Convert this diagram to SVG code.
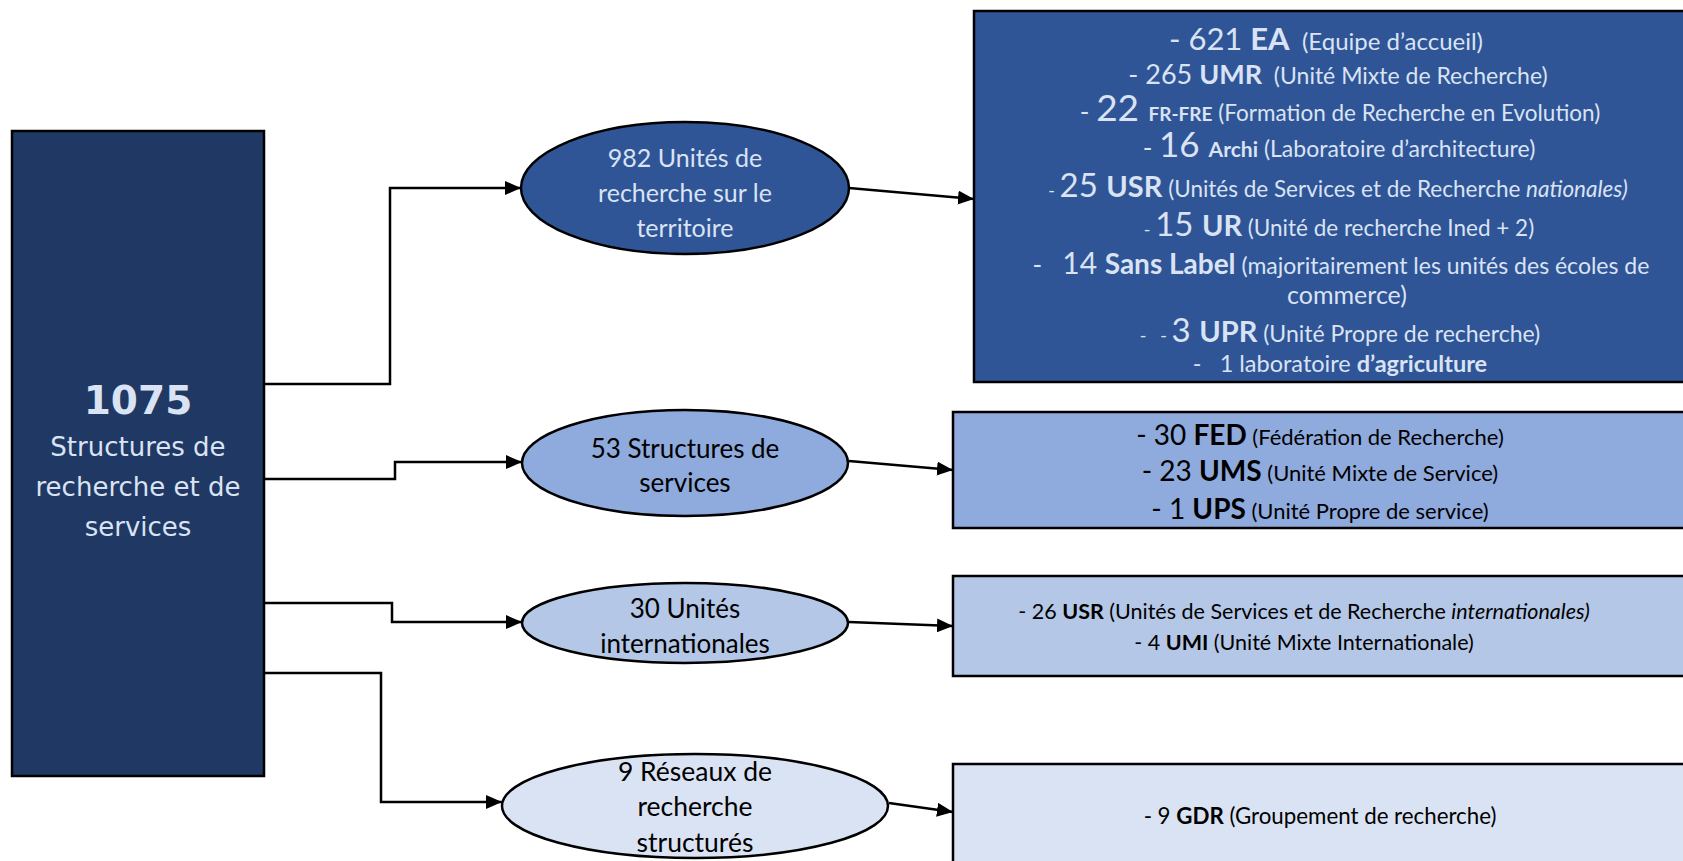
<svg xmlns="http://www.w3.org/2000/svg" width="1683" height="861" viewBox="0 0 1683 861">
  <defs>
    <marker id="arrow" markerUnits="userSpaceOnUse" markerWidth="16" markerHeight="14" refX="16" refY="7" orient="auto">
      <path d="M0,0 L16,7 L0,14 Z" fill="#000"/>
    </marker>
    <style>
      .frame { stroke: #000; stroke-width: 2.5; }
      .dark { fill: #203864; }
      .l1 { fill: #2f5597; }
      .l2 { fill: #8faadc; }
      .l3 { fill: #b4c7e7; }
      .l4 { fill: #dae3f3; }
      .conn { fill: none; stroke: #000; stroke-width: 2.5; marker-end: url(#arrow); }
      text { font-family: Lato, "Liberation Sans", sans-serif; text-anchor: middle; }
      .light { fill: #dae3f3; }
      .ink { fill: #000; }
      .b { font-weight: bold; }
      .i { font-style: italic; }
      .root { font-family: "DejaVu Sans", Verdana, sans-serif; }
    </style>
  </defs>

  <!-- Root box -->
  <g id="root">
    <rect class="frame dark" x="12" y="131" width="252" height="645"/>
    <text class="root light b" x="138" y="414" font-size="39">1075</text>
    <text class="root light" x="138" y="456" font-size="26">Structures de</text>
    <text class="root light" x="138" y="496" font-size="26">recherche et de</text>
    <text class="root light" x="138" y="536" font-size="26">services</text>
  </g>

  <!-- Connectors -->
  <g id="connectors">
    <path class="conn" d="M264 384 H390 V188 H521"/>
    <path class="conn" d="M264 479 H395 V462 H522"/>
    <path class="conn" d="M264 603 H392 V622 H522"/>
    <path class="conn" d="M264 673 H381 V802 H502"/>
    <path class="conn" d="M849 188 L974 199"/>
    <path class="conn" d="M849 461 L953 470"/>
    <path class="conn" d="M849 622 L953 626"/>
    <path class="conn" d="M889 803 L953 812"/>
  </g>

  <!-- Category ellipses -->
  <g id="units-territory">
    <ellipse class="frame l1" cx="685" cy="188" rx="164" ry="66"/>
    <text class="light" font-size="25" x="685" y="167">982 Unités de</text>
    <text class="light" font-size="25" x="685" y="202">recherche sur le</text>
    <text class="light" font-size="25" x="685" y="237">territoire</text>
  </g>
  <g id="service-structures">
    <ellipse class="frame l2" cx="685" cy="463" rx="163" ry="53"/>
    <text class="ink" font-size="26" x="685" y="458">53 Structures de</text>
    <text class="ink" font-size="26" x="685" y="492">services</text>
  </g>
  <g id="international-units">
    <ellipse class="frame l3" cx="685" cy="623" rx="163" ry="40"/>
    <text class="ink" font-size="26" x="685" y="618">30 Unités</text>
    <text class="ink" font-size="26" x="685" y="653">internationales</text>
  </g>
  <g id="research-networks">
    <ellipse class="frame l4" cx="695" cy="806" rx="193" ry="52"/>
    <text class="ink" font-size="26.5" x="695" y="781">9 Réseaux de</text>
    <text class="ink" font-size="26.5" x="695" y="816">recherche</text>
    <text class="ink" font-size="26.5" x="695" y="852">structurés</text>
  </g>

  <!-- Detail boxes -->
  <g id="territory-detail">
    <rect class="frame l1" x="974" y="11" width="720" height="371"/>
    <text class="light" x="1326" y="50"><tspan font-size="31">- 621 </tspan><tspan class="b" font-size="31">EA</tspan><tspan font-size="24">&#160; (Equipe d’accueil)</tspan></text>
    <text class="light" x="1338" y="84"><tspan font-size="27">- 265 </tspan><tspan class="b" font-size="27">UMR</tspan><tspan font-size="23">&#160; (Unité Mixte de Recherche)</tspan></text>
    <text class="light" x="1340" y="121"><tspan font-size="26">- </tspan><tspan font-size="37">22 </tspan><tspan class="b" font-size="19">FR-FRE</tspan><tspan font-size="22.5"> (Formation de Recherche en Evolution)</tspan></text>
    <text class="light" x="1339" y="157"><tspan font-size="26">- </tspan><tspan font-size="35">16 </tspan><tspan class="b" font-size="21">Archi</tspan><tspan font-size="23"> (Laboratoire d’architecture)</tspan></text>
    <text class="light" x="1338" y="197"><tspan font-size="18">- </tspan><tspan font-size="33">25 </tspan><tspan class="b" font-size="29">USR</tspan><tspan font-size="22.5"> (Unités de Services et de Recherche </tspan><tspan class="i" font-size="22.5">nationales)</tspan></text>
    <text class="light" x="1339" y="236"><tspan font-size="18">- </tspan><tspan font-size="33">15 </tspan><tspan class="b" font-size="29">UR</tspan><tspan font-size="22.5"> (Unité de recherche Ined + 2)</tspan></text>
    <text class="light" x="1341" y="274"><tspan font-size="26">-&#160;&#160; </tspan><tspan font-size="30">14 </tspan><tspan class="b" font-size="28">Sans Label</tspan><tspan font-size="23"> (majoritairement les unités des écoles de</tspan></text>
    <text class="light" x="1347" y="304" font-size="25">commerce)</text>
    <text class="light" x="1340" y="342"><tspan font-size="18">-&#160;&#160; - </tspan><tspan font-size="33">3 </tspan><tspan class="b" font-size="29">UPR</tspan><tspan font-size="23"> (Unité Propre de recherche)</tspan></text>
    <text class="light" x="1340" y="372" font-size="23.5">-&#160;&#160; 1 laboratoire <tspan class="b">d’agriculture</tspan></text>
  </g>
  <g id="services-detail">
    <rect class="frame l2" x="953" y="412" width="740" height="116"/>
    <text class="ink" x="1320" y="445"><tspan font-size="28">- 30 </tspan><tspan class="b" font-size="28">FED</tspan><tspan font-size="22"> (Fédération de Recherche)</tspan></text>
    <text class="ink" x="1320" y="481"><tspan font-size="28">- 23 </tspan><tspan class="b" font-size="28">UMS</tspan><tspan font-size="22"> (Unité Mixte de Service)</tspan></text>
    <text class="ink" x="1320" y="519"><tspan font-size="28">- 1 </tspan><tspan class="b" font-size="28">UPS</tspan><tspan font-size="22"> (Unité Propre de service)</tspan></text>
  </g>
  <g id="international-detail">
    <rect class="frame l3" x="953" y="576" width="740" height="100"/>
    <text class="ink" x="1304" y="619" font-size="21.5">- 26 <tspan class="b">USR</tspan> (Unités de Services et de Recherche <tspan class="i">internationales)</tspan></text>
    <text class="ink" x="1304" y="650" font-size="21.5">- 4 <tspan class="b">UMI</tspan> (Unité Mixte Internationale)</text>
  </g>
  <g id="networks-detail">
    <rect class="frame l4" x="953" y="764" width="740" height="110"/>
    <text class="ink" x="1320" y="824" font-size="22.3">- 9 <tspan class="b">GDR</tspan> (Groupement de recherche)</text>
  </g>
</svg>
